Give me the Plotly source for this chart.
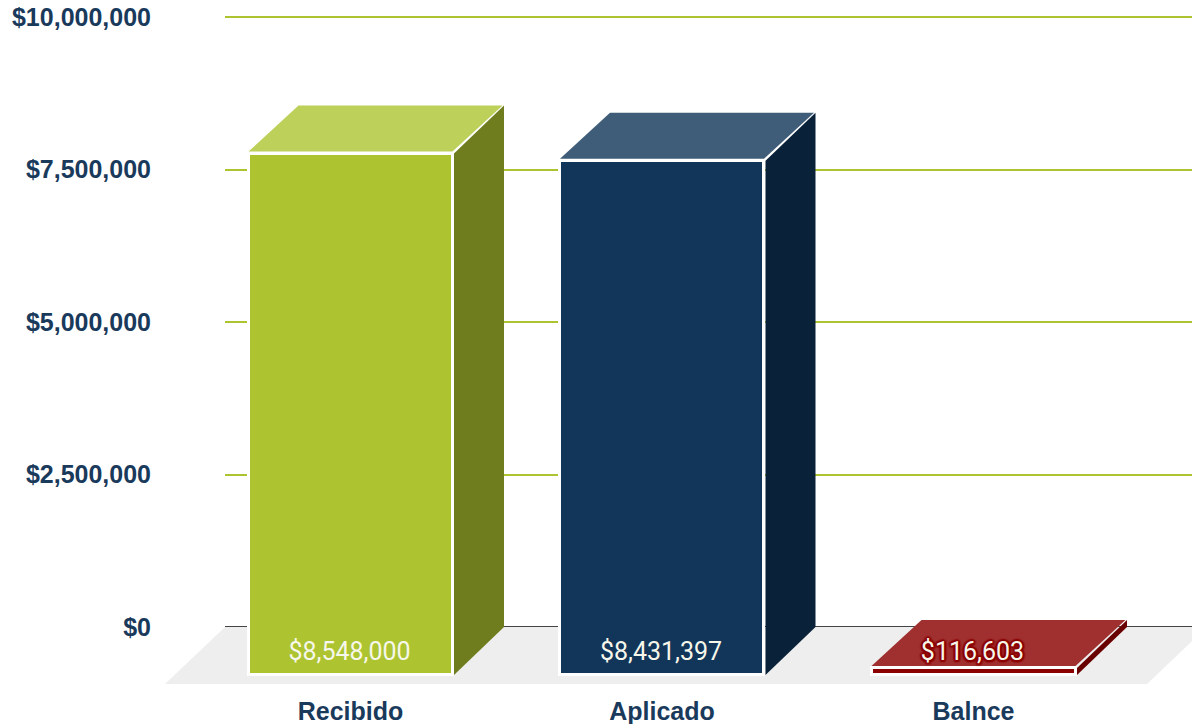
import plotly.graph_objects as go

categories = ["Recibido", "Aplicado", "Balnce"]
values = [8548000, 8431397, 116603]
labels = ["$8,548,000", "$8,431,397", "$116,603"]
tick_values = [0, 2500000, 5000000, 7500000, 10000000]
tick_labels = ["$0", "$2,500,000", "$5,000,000", "$7,500,000", "$10,000,000"]

front_colors = ["#adc32f", "#12355a", "#8b0000"]
side_colors = ["#6f7d1e", "#0a2239", "#690000"]
top_colors = ["#bcd05a", "#3f5d79", "#a03030"]
red_glow = ", ".join(f"{a}px {b}px 1.5px #8b0000" for a, b in
                     [(2, 0), (-2, 0), (0, 2), (0, -2), (1.5, 1.5), (-1.5, 1.5), (1.5, -1.5), (-1.5, -1.5)])
label_shadows = ["none", "none", red_glow]

W, H = 1192, 724
L_MARK, L_GRID, PLOT_BOTTOM = 165, 225, 692
PX_Y = 610 / 1e7          # pixels per dollar
PX_X = 311.5              # pixels per category
DX = 50 / PX_X            # depth of the 3D extrusion, x units
DY = 48 / PX_Y            # depth of the 3D extrusion, y units
BAR_W = 204 / PX_X
HALF = BAR_W / 2
EDGE = 1.5 / PX_X         # keeps the faces off the white border
y_range = [(627 - PLOT_BOTTOM) / PX_Y, 627 / PX_Y]
x2_range = [(L_MARK - 350.5) / PX_X, (W - 350.5) / PX_X]

fig = go.Figure()

# holds the real y axis and gridlines, below the marks subplot
fig.add_trace(go.Scatter(x=[0, 1], y=[0, 0], mode="lines", line=dict(width=0),
                         hoverinfo="skip", showlegend=False, xaxis="x", yaxis="y"))

for i, (cat, val) in enumerate(zip(categories, values)):
    right = i + HALF + EDGE
    fig.add_trace(go.Scatter(
        x=[right, right + DX, right + DX, right, right],
        y=[-DY, 0, val, val - DY, -DY],
        mode="lines", fill="toself", fillcolor=side_colors[i], line=dict(width=0),
        hoverinfo="skip", showlegend=False, xaxis="x2", yaxis="y2"))
    left = i - HALF
    gap = 2 / PX_Y
    fig.add_trace(go.Scatter(
        x=[left, left + DX, i + HALF + DX, i + HALF, left],
        y=[val - DY + gap, val, val, val - DY + gap, val - DY + gap],
        mode="lines", fill="toself", fillcolor=top_colors[i], line=dict(width=0),
        hoverinfo="skip", showlegend=False, xaxis="x2", yaxis="y2"))

fig.add_trace(go.Bar(
    x=list(range(len(categories))), y=values, base=[-DY] * len(values), width=BAR_W,
    marker=dict(color=front_colors, line=dict(color="#ffffff", width=3)),
    showlegend=False, xaxis="x2", yaxis="y2"))

for i, text in enumerate(labels):
    fig.add_trace(go.Scatter(
        x=[i - 1 / PX_X], y=[-27 / PX_Y], mode="text", text=[text], textposition="middle center",
        textfont=dict(family="Roboto", size=25, color="#f6f7ea", shadow=label_shadows[i]),
        hoverinfo="skip", showlegend=False, xaxis="x2", yaxis="y2"))

# grey floor, drawn under the traces
x_at = lambda px: (px - 350.5) / PX_X
fig.add_shape(type="path", xref="x2", yref="y2", layer="below",
              path=f"M {x_at(165)} {(627 - 684) / PX_Y} L {x_at(225)} 0 L {x_at(1207)} 0 "
                   f"L {x_at(1147)} {(627 - 684) / PX_Y} Z",
              fillcolor="#eeeeee", line=dict(width=0))

tick_font = dict(family="Liberation Sans", size=25, color="#1a3a5c")
fig.update_layout(
    width=W, height=H, autosize=False,
    margin=dict(l=0, r=0, t=0, b=H - PLOT_BOTTOM, pad=0),
    paper_bgcolor="#ffffff", plot_bgcolor="rgba(0,0,0,0)",
    showlegend=False, bargap=0,
    xaxis=dict(domain=[L_GRID / W, 1], range=[0, 1], visible=False, fixedrange=True),
    yaxis=dict(domain=[0, 1], range=y_range, anchor="x", tickmode="array",
               tickvals=tick_values, ticktext=[f"<b>{t}</b>" for t in tick_labels],
               tickfont=tick_font, ticks="", ticklabelstandoff=73, showgrid=True,
               gridcolor="#adc32f", gridwidth=2, zeroline=True, zerolinecolor="#444444",
               zerolinewidth=2, showline=False, fixedrange=True),
    xaxis2=dict(domain=[L_MARK / W, 1], range=x2_range, anchor="y2", tickmode="array",
                tickvals=list(range(len(categories))),
                ticktext=[f"<b>{c}</b>" for c in categories],
                tickfont=tick_font, ticks="", ticklabelstandoff=2, showgrid=False,
                zeroline=False, showline=False, fixedrange=True),
    yaxis2=dict(domain=[0, 1], range=y_range, anchor="x2", visible=False, fixedrange=True),
)
fig.write_html("out.html", config={"displayModeBar": False},
               post_script="document.body.style.margin='0';document.documentElement.style.overflow='hidden';")
